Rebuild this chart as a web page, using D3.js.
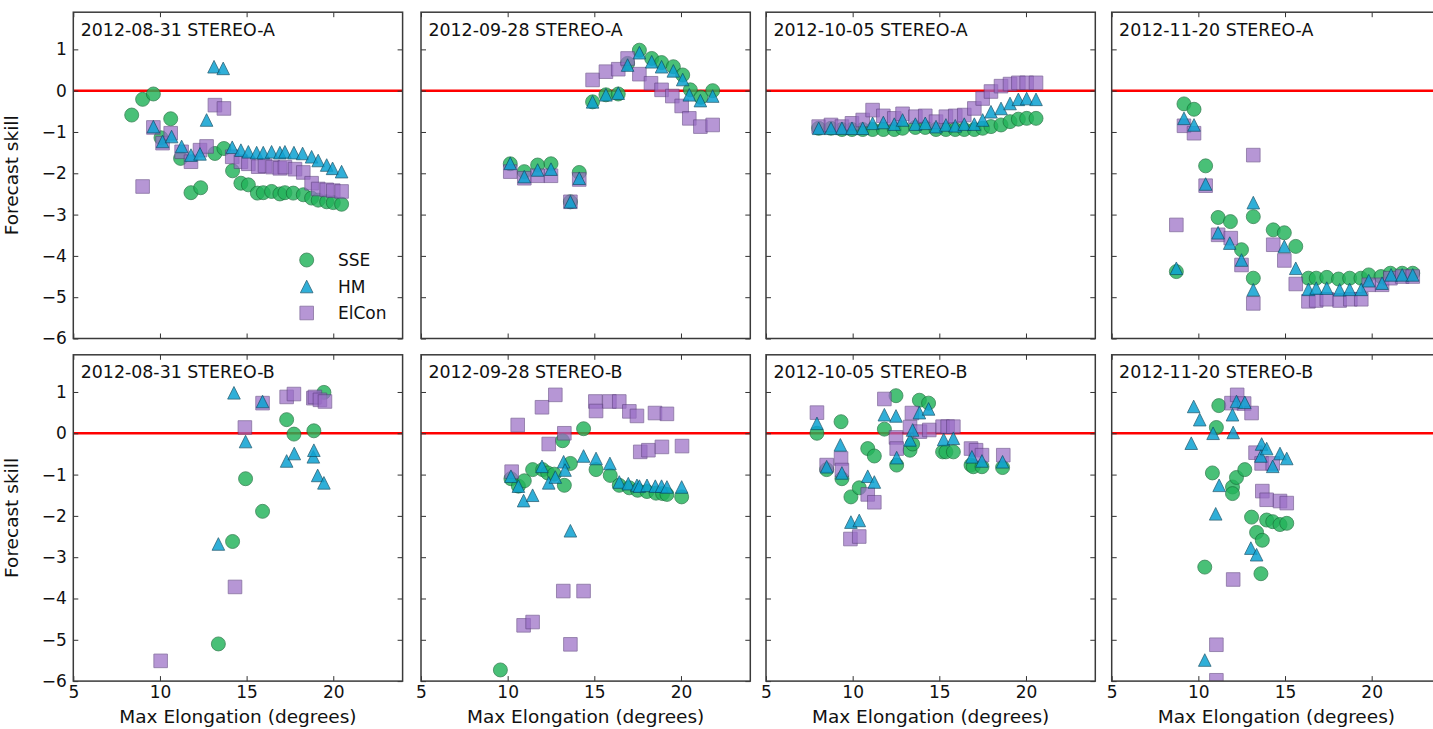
<!DOCTYPE html>
<html>
<head>
<meta charset="utf-8">
<script src="https://cdn.jsdelivr.net/npm/d3@7"></script>
<style>
  body { margin: 0; background: #fff; }
  svg { display: block; }
  text { font-family: "DejaVu Sans", sans-serif; fill: #111; }
</style>
</head>
<body>
<svg id="chart" width="1433" height="729"></svg>
<script>
// Event dates and spacecraft: one column per event, one row per spacecraft
const events = ["2012-08-31", "2012-09-28", "2012-10-05", "2012-11-20"];
const craft = ["STEREO-A", "STEREO-B"];
const seriesNames = ["SSE", "HM", "ElCon"];
const xTicks = [5, 10, 15, 20];
const yTicks = [1, 0, -1, -2, -3, -4, -5, -6];

// Forecast skill vs. maximum elongation, [elongation (deg), skill]
// ---- STEREO-A ----
const sseA0831 = [[8.37,-0.59],[9.0,-0.21],[9.62,-0.08],[10.06,-1.14],[10.62,-0.68],[11.19,-1.64],[11.79,-2.47],[12.35,-2.35],[13.17,-1.52],[13.69,-1.40],[14.19,-1.94],[14.67,-2.24],[15.1,-2.28],[15.62,-2.48],[15.96,-2.47],[16.44,-2.44],[16.92,-2.5],[17.21,-2.47],[17.69,-2.48],[18.27,-2.52],[18.75,-2.6],[19.13,-2.65],[19.62,-2.69],[20.0,-2.71],[20.48,-2.75]];
const hmA0831 = [[9.62,-0.87],[10.15,-1.23],[10.67,-1.11],[11.25,-1.35],[11.79,-1.56],[12.31,-1.53],[12.69,-0.71],[13.12,0.58],[13.65,0.54],[14.17,-1.37],[14.67,-1.44],[15.1,-1.48],[15.58,-1.5],[15.96,-1.5],[16.44,-1.48],[16.92,-1.5],[17.21,-1.48],[17.73,-1.5],[18.23,-1.52],[18.75,-1.6],[19.13,-1.69],[19.62,-1.8],[19.96,-1.88],[20.48,-1.96]];
const elA0831 = [[9.0,-2.32],[9.62,-0.89],[10.15,-1.27],[10.62,-1.03],[11.25,-1.48],[11.79,-1.72],[12.31,-1.44],[12.69,-1.35],[13.17,-0.35],[13.69,-0.43],[14.17,-1.6],[14.67,-1.72],[15.1,-1.77],[15.67,-1.84],[16.06,-1.82],[16.5,-1.85],[16.92,-1.88],[17.21,-1.85],[17.79,-1.9],[18.27,-1.98],[18.75,-2.24],[19.13,-2.38],[19.62,-2.4],[20.0,-2.42],[20.48,-2.44]];

const sseA0928 = [[10.15,-1.77],[10.96,-1.96],[11.73,-1.8],[12.5,-1.77],[13.62,-2.69],[14.13,-1.98],[14.9,-0.27],[15.67,-0.1],[16.38,-0.08],[16.92,0.66],[17.6,0.98],[18.31,0.78],[18.88,0.68],[19.56,0.58],[20.1,0.38],[20.54,0.02],[21.15,-0.16],[21.83,0.0]];
const hmA0928 = [[10.15,-1.76],[10.96,-2.08],[11.73,-1.92],[12.5,-1.9],[13.62,-2.69],[14.13,-2.12],[14.9,-0.27],[15.67,-0.1],[16.38,-0.06],[16.92,0.62],[17.6,0.92],[18.31,0.7],[18.88,0.58],[19.56,0.48],[20.1,0.27],[20.48,-0.1],[21.12,-0.24],[21.83,-0.13]];
const elA0928 = [[10.15,-1.96],[10.96,-2.12],[11.73,-2.06],[12.5,-2.06],[13.62,-2.69],[14.13,-2.15],[14.9,0.26],[15.67,0.46],[16.38,0.52],[16.92,0.78],[17.6,0.4],[18.27,0.18],[18.88,0.02],[19.5,-0.13],[20.04,-0.37],[20.48,-0.67],[21.12,-0.87],[21.83,-0.83]];

const sseA1005 = [[8.04,-0.91],[8.75,-0.91],[9.38,-0.94],[9.96,-0.94],[10.58,-0.94],[11.15,-0.94],[11.77,-0.94],[12.4,-0.94],[12.88,-0.91],[13.62,-0.89],[14.19,-0.89],[14.81,-0.94],[15.38,-0.94],[15.92,-0.94],[16.44,-0.94],[17.02,-0.94],[17.5,-0.91],[17.98,-0.87],[18.56,-0.83],[19.08,-0.75],[19.56,-0.69],[20.04,-0.67],[20.58,-0.67]];
const hmA1005 = [[8.04,-0.91],[8.75,-0.91],[9.38,-0.91],[9.96,-0.91],[10.58,-0.91],[11.15,-0.79],[11.77,-0.77],[12.4,-0.81],[12.88,-0.71],[13.62,-0.81],[14.19,-0.79],[14.81,-0.87],[15.38,-0.83],[15.92,-0.85],[16.44,-0.81],[17.02,-0.81],[17.5,-0.71],[17.98,-0.51],[18.56,-0.43],[19.08,-0.31],[19.56,-0.21],[20.04,-0.19],[20.58,-0.21]];
const elA1005 = [[8.04,-0.87],[8.75,-0.83],[9.38,-0.87],[9.96,-0.79],[10.58,-0.71],[11.15,-0.47],[11.77,-0.61],[12.4,-0.67],[12.88,-0.56],[13.62,-0.63],[14.19,-0.61],[14.81,-0.75],[15.38,-0.63],[15.92,-0.61],[16.44,-0.59],[17.02,-0.43],[17.5,-0.19],[17.98,-0.02],[18.56,0.11],[19.08,0.16],[19.56,0.19],[20.04,0.19],[20.58,0.19]];

const sseA1120 = [[8.73,-4.38],[9.17,-0.32],[9.75,-0.45],[10.42,-1.82],[11.14,-3.07],[11.85,-3.17],[12.49,-3.85],[13.17,-3.05],[13.17,-4.54],[14.32,-3.37],[14.96,-3.44],[15.62,-3.77],[16.35,-4.54],[16.8,-4.54],[17.41,-4.52],[18.09,-4.56],[18.73,-4.54],[19.38,-4.54],[19.83,-4.46],[20.54,-4.5],[21.08,-4.42],[21.76,-4.42],[22.37,-4.42]];
const hmA1120 = [[8.73,-4.3],[9.17,-0.67],[9.75,-0.83],[10.42,-2.26],[11.14,-3.44],[11.81,-3.69],[12.49,-4.1],[13.17,-2.71],[13.17,-4.82],[14.96,-3.77],[15.62,-4.3],[16.35,-4.81],[16.8,-4.78],[17.41,-4.78],[18.15,-4.82],[18.73,-4.81],[19.4,-4.81],[19.83,-4.6],[20.6,-4.66],[21.12,-4.46],[21.76,-4.46],[22.37,-4.46]];
const elA1120 = [[8.73,-3.25],[9.17,-0.85],[9.75,-1.03],[10.42,-2.3],[11.14,-3.49],[11.87,-3.57],[12.49,-4.22],[13.17,-1.56],[13.17,-5.15],[14.32,-3.73],[14.96,-4.11],[15.62,-4.68],[16.35,-5.1],[16.8,-5.08],[17.41,-5.05],[18.15,-5.08],[18.77,-5.05],[19.4,-5.05],[19.83,-4.7],[20.6,-4.7],[21.08,-4.54],[21.76,-4.5],[22.37,-4.5]];

// ---- STEREO-B ----
const sseB0831 = [[13.37,-5.1],[14.19,-2.62],[14.94,-1.1],[15.92,-1.89],[17.31,0.33],[17.73,-0.02],[18.88,0.06],[19.46,0.99]];
const hmB0831 = [[13.37,-2.68],[14.27,0.98],[14.94,-0.2],[15.92,0.77],[17.31,-0.67],[17.75,-0.49],[18.85,-0.57],[18.88,-0.41],[19.1,-1.02],[19.46,-1.2]];
const elB0831 = [[10.04,-5.51],[14.33,-3.72],[14.9,0.14],[15.92,0.73],[17.31,0.88],[17.73,0.95],[18.85,0.85],[18.94,0.88],[19.23,0.81],[19.52,0.77]];

const sseB0928 = [[9.58,-5.73],[10.19,-1.1],[10.62,-1.28],[10.96,-1.15],[11.44,-0.88],[12.02,-0.88],[12.31,-0.96],[12.69,-0.99],[13.17,-0.18],[13.27,-1.26],[13.62,-0.73],[14.38,0.11],[15.1,-0.88],[15.92,-1.02],[16.44,-1.26],[17.02,-1.32],[17.5,-1.38],[18.04,-1.41],[18.56,-1.45],[18.94,-1.46],[19.19,-1.48],[20.04,-1.54]];
const hmB0928 = [[10.19,-1.04],[10.62,-1.28],[10.92,-1.63],[11.44,-1.5],[11.98,-0.8],[12.37,-1.2],[12.75,-1.06],[13.23,-0.69],[13.31,-0.89],[13.62,-2.36],[14.38,-0.55],[15.1,-0.61],[15.9,-0.73],[16.44,-1.18],[16.96,-1.22],[17.46,-1.26],[17.6,-1.28],[18.04,-1.26],[18.52,-1.28],[18.88,-1.28],[19.19,-1.3],[20.04,-1.3]];
const elB0928 = [[10.23,-0.93],[10.58,0.2],[10.92,-4.65],[11.44,-4.57],[11.98,0.63],[12.37,-0.26],[12.75,0.93],[13.27,0.0],[13.21,-3.82],[13.62,-5.11],[14.38,-3.82],[15.06,0.77],[15.1,0.54],[15.87,0.77],[16.44,0.77],[17.02,0.53],[17.46,0.42],[17.65,-0.45],[18.12,-0.41],[18.5,0.49],[18.9,-0.33],[19.19,0.47],[20.06,-0.31]];

const sseB1005 = [[7.94,0.0],[8.5,-0.88],[9.33,0.28],[9.38,-1.1],[9.9,-1.54],[10.38,-1.32],[10.87,-0.37],[11.25,-0.55],[11.83,0.1],[12.5,0.91],[12.54,-0.77],[13.31,-0.41],[13.46,-0.26],[13.85,0.8],[14.38,0.73],[15.19,-0.45],[15.38,-0.45],[15.81,-0.45],[16.83,-0.77],[16.96,-0.81],[17.46,-0.81],[18.65,-0.83]];
const hmB1005 = [[7.94,0.24],[8.5,-0.81],[9.29,-0.28],[9.38,-0.96],[9.9,-2.15],[10.38,-2.11],[10.87,-1.04],[11.25,-1.18],[11.83,0.45],[12.5,0.42],[12.54,-0.59],[13.31,-0.16],[13.46,0.08],[13.85,0.5],[14.38,0.59],[15.25,-0.15],[15.81,-0.12],[16.88,-0.57],[17.46,-0.67],[18.65,-0.69]];
const elB1005 = [[7.94,0.5],[8.5,-0.77],[9.33,-0.61],[9.38,-0.89],[9.87,-2.56],[10.38,-2.5],[10.87,-1.48],[11.25,-1.67],[11.83,0.83],[12.5,-0.1],[12.54,-0.37],[13.31,0.15],[13.42,0.49],[13.88,0.04],[14.42,0.08],[15.19,0.16],[15.48,0.16],[15.81,0.16],[16.83,-0.37],[17.12,-0.41],[17.46,-0.53],[18.69,-0.53]];

const sseB1120 = [[10.37,-3.24],[10.81,-0.96],[11.04,0.14],[11.18,0.67],[11.97,-1.3],[11.97,-1.46],[12.2,-1.07],[12.68,-0.88],[13.07,-2.03],[13.36,-2.4],[13.69,-2.59],[13.61,-3.4],[13.94,-2.1],[14.29,-2.14],[14.71,-2.21],[15.1,-2.18]];
const hmB1120 = [[9.59,-0.24],[9.73,0.65],[10.08,0.33],[10.37,-5.49],[10.85,0.0],[11.0,-1.95],[11.2,-1.26],[11.97,0.45],[12.01,0.02],[12.2,0.77],[12.68,0.75],[13.03,-2.78],[13.36,-2.94],[13.65,-0.26],[13.61,-0.55],[13.94,-0.37],[14.29,-0.8],[14.71,-0.49],[15.1,-0.61]];
const elB1120 = [[11.04,-5.12],[11.04,-5.98],[12.01,-3.54],[11.91,0.73],[12.24,0.93],[12.64,0.72],[13.07,0.49],[13.3,-0.47],[13.65,-0.73],[13.69,-1.4],[13.94,-1.61],[14.29,-0.73],[14.71,-1.64],[15.1,-1.69]];

// Grid of panels: rows = spacecraft, columns = events; each cell holds [SSE, HM, ElCon]
const grid = [
  [[sseA0831, hmA0831, elA0831], [sseA0928, hmA0928, elA0928], [sseA1005, hmA1005, elA1005], [sseA1120, hmA1120, elA1120]],
  [[sseB0831, hmB0831, elB0831], [sseB0928, hmB0928, elB0928], [sseB1005, hmB1005, elB1005], [sseB1120, hmB1120, elB1120]]
];

// ---------- layout ----------
const svg = d3.select("#chart");
const panelLeft = [73.3, 421, 766, 1111.7];
const rowTop = [12.2, 354.8];
const pw = 329.3, ph = 326.3;

const x = d3.scaleLinear().domain([5, 24]).range([0, pw]);
const y = d3.scaleLinear().domain([-6, 1.9]).range([ph, 0]);

// matplotlib-style upward triangle (square bounding box, centred)
const triangleUp = {
  draw(ctx, size) {
    const r = Math.sqrt(size) / 2;
    ctx.moveTo(0, -r);
    ctx.lineTo(r, r);
    ctx.lineTo(-r, r);
    ctx.closePath();
  }
};

const styles = {
  SSE:   { type: d3.symbolCircle, size: Math.PI * 7 * 7, fill: "#22b35a", stroke: "#146b36", opacity: 0.82 },
  HM:    { type: triangleUp,      size: 12.6 * 12.6,      fill: "#0da2d2", stroke: "#0a4a62", opacity: 0.85 },
  ElCon: { type: d3.symbolSquare, size: 13.6 * 13.6,      fill: "#9a6ec6", stroke: "#5a3c7c", opacity: 0.72 }
};
// Plot order: SSE underneath, then ElCon, HM on top
const drawOrder = [0, 2, 1];

const fmt = d3.format("d");

grid.forEach((row, r) => {
  row.forEach((cell, c) => {
    const g = svg.append("g").attr("transform", `translate(${panelLeft[c]},${rowTop[r]})`);
    const clipId = `clip-${r}-${c}`;
    g.append("clipPath").attr("id", clipId)
      .append("rect").attr("width", pw).attr("height", ph);

    // zero-skill reference line
    g.append("line")
      .attr("x1", x(5)).attr("x2", x(24))
      .attr("y1", y(0)).attr("y2", y(0))
      .attr("stroke", "#ff0000").attr("stroke-width", 2.6);

    const marks = g.append("g").attr("clip-path", `url(#${clipId})`);
    drawOrder.forEach(si => {
      const name = seriesNames[si];
      const st = styles[name];
      const sym = d3.symbol().type(st.type).size(st.size);
      marks.append("g").selectAll("path").data(cell[si]).join("path")
        .attr("d", sym)
        .attr("transform", d => `translate(${x(d[0])},${y(d[1])})`)
        .attr("fill", st.fill)
        .attr("stroke", st.stroke)
        .attr("stroke-width", 0.8)
        .attr("opacity", st.opacity);
    });

    // axes with inward ticks on all four sides
    const tickStyle = sel => {
      sel.select(".domain").remove();
      sel.selectAll(".tick line").attr("stroke", "#333").attr("stroke-width", 1);
      sel.selectAll("text").style("font-size", "17px").attr("fill", "#111");
    };
    g.append("g").call(d3.axisLeft(y).tickValues(yTicks).tickSize(-5).tickPadding(6.5)
        .tickFormat(c === 0 ? fmt : () => "")).call(tickStyle);
    g.append("g").attr("transform", `translate(${pw},0)`)
      .call(d3.axisRight(y).tickValues(yTicks).tickSize(-5).tickFormat(() => "")).call(tickStyle);
    g.append("g")
      .call(d3.axisTop(x).tickValues(xTicks).tickSize(-5).tickFormat(() => "")).call(tickStyle);
    g.append("g").attr("transform", `translate(0,${ph})`)
      .call(d3.axisBottom(x).tickValues(xTicks).tickSize(-5).tickPadding(5.2)
        .tickFormat(r === 1 ? fmt : () => "")).call(tickStyle);

    // frame
    g.append("rect").attr("width", pw).attr("height", ph)
      .attr("fill", "none").attr("stroke", "#3a3a3a").attr("stroke-width", 1.5);

    // panel title
    g.append("text").attr("x", 7.4).attr("y", 23.4)
      .style("font-size", "17.4px").text(`${events[c]} ${craft[r]}`);

    if (r === 1) {
      g.append("text").attr("x", pw / 2).attr("y", ph + 42)
        .attr("text-anchor", "middle").style("font-size", "18.5px")
        .text("Max Elongation (degrees)");
    }
    if (c === 0) {
      g.append("text")
        .attr("transform", `translate(${-55},${ph / 2}) rotate(-90)`)
        .attr("text-anchor", "middle").style("font-size", "18.5px")
        .text("Forecast skill");
    }

    // legend in the first panel
    if (r === 0 && c === 0) {
      const lg = g.append("g").attr("transform", `translate(${233.4},${247.8})`);
      seriesNames.forEach((name, i) => {
        const st = styles[name];
        const item = lg.append("g").attr("transform", `translate(0,${i * 26.5})`);
        item.append("path").attr("d", d3.symbol().type(st.type).size(st.size))
          .attr("fill", st.fill).attr("stroke", st.stroke).attr("stroke-width", 0.8)
          .attr("opacity", st.opacity);
        item.append("text").attr("x", 31.3).attr("dy", "0.36em")
          .style("font-size", "17px").text(name);
      });
    }
  });
});
</script>
</body>
</html>
